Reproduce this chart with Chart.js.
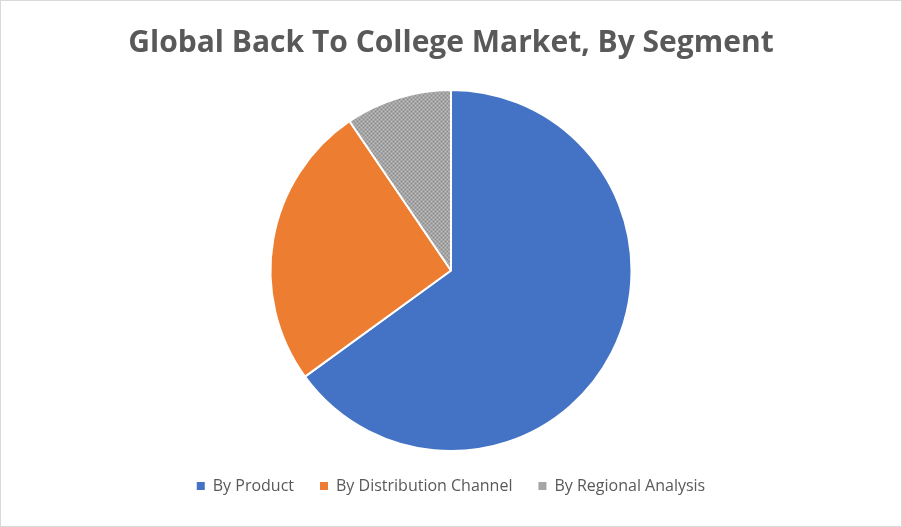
<!DOCTYPE html>
<html>
<head>
<script src="https://cdn.jsdelivr.net/npm/chart.js@4"></script>
<style>
  body { margin: 0; background: #fff; }
  #wrap { width: 900px; height: 525px; border: 1px solid #d9d9d9; }
</style>
</head>
<body>
<div id="wrap"><canvas id="myChart" width="900" height="525"></canvas></div>
<script>
const categories = ['By Product', 'By Distribution Channel', 'By Regional Analysis']
const shares = [65, 25.5, 9.5]

// gray slice has a speckled texture in the original
function grayPattern () {
  const c = document.createElement('canvas')
  c.width = 4
  c.height = 4
  const p = c.getContext('2d')
  p.fillStyle = '#a5a5a5'
  p.fillRect(0, 0, 4, 4)
  p.fillStyle = '#8c8c8c'
  p.fillRect(0, 0, 1, 1)
  p.fillRect(2, 2, 1, 1)
  p.fillStyle = '#bdbdbd'
  p.fillRect(2, 0, 1, 1)
  p.fillRect(0, 2, 1, 1)
  return p.createPattern(c, 'repeat')
}

new Chart('myChart', {
  type: 'pie',
  data: {
    labels: categories,
    datasets: [
      {
        data: shares,
        backgroundColor: ['#4472c4', '#ed7d31', grayPattern()],
        borderColor: '#ffffff',
        borderWidth: 2
      }
    ]
  },
  options: {
    responsive: false,
    animation: false,
    layout: { padding: { top: 4, bottom: 22 } },
    plugins: {
      title: {
        display: true,
        text: 'Global Back To College Market, By Segment',
        color: '#595959',
        font: { family: 'Open Sans', size: 30, weight: 'bold' },
        padding: { top: 20, bottom: 28 }
      },
      legend: {
        position: 'bottom',
        labels: {
          color: '#595959',
          font: { family: 'Open Sans', size: 16 },
          boxWidth: 8,
          boxHeight: 8,
          padding: 26,
          generateLabels: chart => {
            const items = Chart.overrides.pie.plugins.legend.labels.generateLabels(chart)
            items[2].fillStyle = '#a5a5a5'
            items.forEach(i => { i.strokeStyle = 'transparent'; i.lineWidth = 0 })
            return items
          }
        }
      },
      tooltip: { enabled: false }
    }
  }
})
</script>
</body>
</html>
